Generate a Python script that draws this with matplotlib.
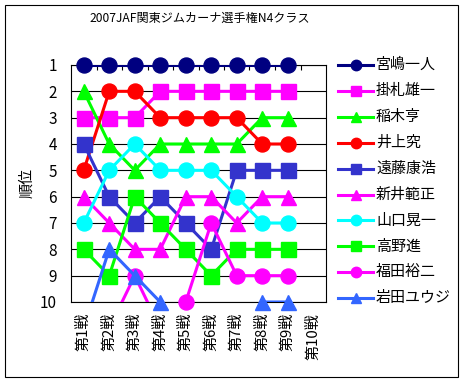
import matplotlib.pyplot as plt
from matplotlib.lines import Line2D
from matplotlib.patches import Rectangle

plt.rcParams['font.family'] = ['Noto Sans CJK JP', 'DejaVu Sans']

# 各戦の順位 (11以上はグラフ外)
races = ['第1戦', '第2戦', '第3戦', '第4戦', '第5戦', '第6戦', '第7戦', '第8戦', '第9戦', '第10戦']
drivers = ['宮嶋一人', '掛札雄一', '稲木亨', '井上究', '遠藤康浩',
           '新井範正', '山口晃一', '高野進', '福田裕二', '岩田ユウジ']
miyajima = [1, 1, 1, 1, 1, 1, 1, 1, 1]
kakefuda = [3, 3, 3, 2, 2, 2, 2, 2, 2]
inaki = [2, 4, 5, 4, 4, 4, 4, 3, 3]
inoue = [5, 2, 2, 3, 3, 3, 3, 4, 4]
endo = [4, 6, 7, 6, 7, 8, 5, 5, 5]
arai = [6, 7, 8, 8, 6, 6, 7, 6, 6]
yamaguchi = [7, 5, 4, 5, 5, 5, 6, 7, 7]
takano = [8, 9, 6, 7, 8, 9, 8, 8, 8]
fukuda = [12, 11, 9, 11, 10, 7, 9, 9, 9]
iwata = [11, 8, 9, 10, 12, 12, 11, 10, 10]
ranks = [miyajima, kakefuda, inaki, inoue, endo, arai, yamaguchi, takano, fukuda, iwata]

colors = ['#000080', '#FF00FF', '#00FF00', '#FF0000', '#3333CC',
          '#FF00FF', '#00FFFF', '#00FF00', '#FF00FF', '#3366FF']
markers = ['o', 's', '^', 'o', 's', '^', 'o', 's', 'o', '^']

W, H = 466, 382
fig = plt.figure(figsize=(W / 100, H / 100), dpi=100)
ax = fig.add_axes([71 / W, 1 - 302 / H, 255 / W, 237 / H])

# 枠
fig.add_artist(Rectangle((5 / W, 1 - 377 / H), 453 / W, 372 / H, transform=fig.transFigure,
                         fill=False, edgecolor='black', linewidth=0.8))

for y in range(1, 11):
    ax.axhline(y, color='black', linewidth=0.8, zorder=1)

for i in range(len(drivers)):
    xs = list(range(len(ranks[i])))
    ax.plot(xs, ranks[i], color=colors[i], linewidth=2.2, zorder=3 + i * 0.1)
    px = [x for x, r in zip(xs, ranks[i]) if r <= 10]
    py = [r for r in ranks[i] if r <= 10]
    ax.plot(px, py, linestyle='none', marker=markers[i], color=colors[i],
            markersize=10.8, clip_on=False, zorder=3 + i * 0.1 + 0.05)

ax.set_xlim(-0.5, 9.5)
ax.set_ylim(10, 1)
ax.set_yticks(range(1, 11))
ax.tick_params(axis='y', length=0, pad=10, labelsize=11)
ax.set_xticks(range(10))
ax.set_xticklabels(races, rotation=90, fontsize=10.8, va='top', ha='center')
ax.tick_params(axis='x', which='major', length=0, pad=8)
ax.set_xticks([x - 0.5 for x in range(1, 10)], minor=True)
ax.tick_params(axis='x', which='minor', top=True, bottom=False, direction='in', length=3.6, width=0.8)
for s in ax.spines.values():
    s.set_linewidth(0.8)

ax.set_ylabel('順位', fontsize=10.8)
ax.yaxis.set_label_coords(-0.145, 0.5)

fig.text(200 / W, 1 - 18 / H, '2007JAF関東ジムカーナ選手権N4クラス', fontsize=8.7, ha='center', va='center')

# 凡例
for i, name in enumerate(drivers):
    yy = 1 - (65 + 25.9 * i) / H
    fig.add_artist(Line2D([338 / W, 373 / W], [yy, yy], transform=fig.transFigure,
                          color=colors[i], linewidth=2.2))
    fig.add_artist(Line2D([355.5 / W], [yy], transform=fig.transFigure, color=colors[i],
                          marker=markers[i], markersize=7.5, linestyle='none'))
    fig.text(376 / W, yy, name, fontsize=10.8, ha='left', va='center')

fig.savefig('out.png', dpi=100)
